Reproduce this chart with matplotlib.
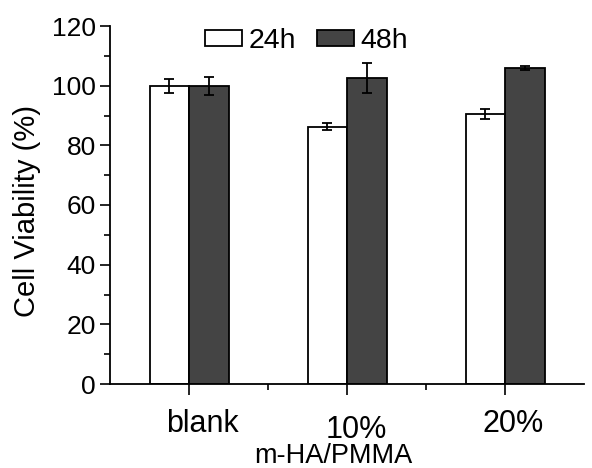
import numpy as np
import matplotlib
matplotlib.use("Agg")
from matplotlib import pyplot as plt
from matplotlib.ticker import MultipleLocator
import matplotlib.transforms as mtransforms

plt.rcParams['font.family'] = ['Liberation Sans', 'DejaVu Sans']

groups = ["blank", "10%", "20%"]
v24 = [100.0, 86.3, 90.5]
e24 = [2.3, 1.3, 1.8]
v48 = [100.0, 102.7, 106.0]
e48 = [3.0, 5.0, 0.7]

fig = plt.figure(figsize=(5.92, 4.68), dpi=100)
ax = fig.add_axes([110/592, 1-384/468, 474/592, 358/468])

x = np.arange(len(groups))
w = 0.25
ax.bar(x - w/2, v24, w, color="white", edgecolor="black", linewidth=1.3, label="24h")
ax.bar(x + w/2, v48, w, color="#444444", edgecolor="black", linewidth=1.3, label="48h")
ax.errorbar(x - w/2, v24, yerr=e24, fmt="none", ecolor="black", elinewidth=1.3, capsize=3.5, capthick=1.3)
ax.errorbar(x + w/2, v48, yerr=e48, fmt="none", ecolor="black", elinewidth=1.3, capsize=3.5, capthick=1.3)

ax.set_xlim(-0.5, 2.5)
ax.set_ylim(0, 120)
ax.yaxis.set_major_locator(MultipleLocator(20))
ax.yaxis.set_minor_locator(MultipleLocator(10))
ax.set_xticks(x)
ax.set_xticks([0.5, 1.5], minor=True)
ax.set_xticklabels(groups, fontsize=22)
ax.tick_params(axis="y", labelsize=19, direction="out", length=7, width=1.2, pad=3)
ax.tick_params(axis="x", direction="out", length=8, width=1.2, pad=10)
ax.tick_params(which="minor", direction="out", length=4, width=1.2)

shifts = [(13, 0), (9, -6), (8, 0)]
for lab, (dx, dy) in zip(ax.get_xticklabels(), shifts):
    lab.set_transform(lab.get_transform() + mtransforms.ScaledTranslation(dx/100, dy/100, fig.dpi_scale_trans))

for s in ["top", "right"]:
    ax.spines[s].set_visible(False)
for s in ["left", "bottom"]:
    ax.spines[s].set_linewidth(1.3)

ax.set_ylabel("Cell Viability (%)", fontsize=21)
ax.yaxis.set_label_coords(-0.145, 0.483)
fig.text(333/592, 1-463/468, "m-HA/PMMA", fontsize=19.5, ha="center", va="baseline")

leg = ax.legend(ncol=2, frameon=False, fontsize=20.5, loc="upper left",
                bbox_to_anchor=(205/592, 1-28/468), bbox_transform=fig.transFigure,
                handlelength=1.3, handleheight=0.52, handletextpad=0.22,
                columnspacing=0.75, borderpad=0, borderaxespad=0)

fig.savefig("out.png", dpi=100)
